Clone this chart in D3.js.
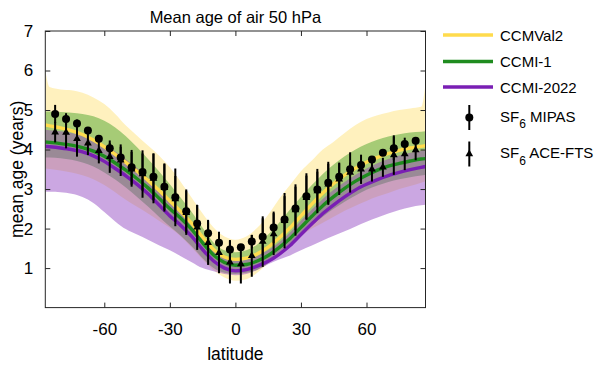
<!DOCTYPE html>
<html><head><meta charset="utf-8">
<script src="https://cdn.jsdelivr.net/npm/d3@7"></script>
<style>body{margin:0;background:#fff} text{font-family:"Liberation Sans",Arial,sans-serif;fill:#000}</style>
</head><body><svg id="c" width="600" height="367"></svg>
<script>
// ---- data ----
const modelLat = [-87,-85,-80,-75,-70,-65,-60,-55,-50,-45,-40,-35,-30,-25,-20,-15,-10,-5,0,5,10,15,20,25,30,35,40,45,50,55,60,65,70,75,80,85,87];
const ccmval2Mean = [4.62,4.60,4.55,4.48,4.38,4.24,4.07,3.88,3.67,3.45,3.22,2.97,2.70,2.43,2.13,1.78,1.47,1.28,1.22,1.25,1.36,1.53,1.76,2.02,2.32,2.62,2.90,3.14,3.35,3.53,3.68,3.80,3.90,3.98,4.04,4.08,4.10];
const ccmval2Hi = [6.00,5.58,5.52,5.50,5.44,5.32,5.15,4.90,4.60,4.35,4.10,3.85,3.55,3.18,2.78,2.38,2.03,1.80,1.72,1.80,2.02,2.35,2.75,3.10,3.45,3.72,4.00,4.20,4.42,4.62,4.77,4.87,4.94,5.00,5.04,5.08,5.65];
const ccmval2Lo = [3.52,3.51,3.47,3.42,3.35,3.25,3.10,2.92,2.72,2.55,2.38,2.20,2.02,1.80,1.52,1.22,0.95,0.76,0.68,0.72,0.88,1.12,1.35,1.60,1.82,2.00,2.15,2.30,2.45,2.58,2.70,2.81,2.90,3.00,3.08,3.16,3.20];
const ccmi1Mean = [4.19,4.18,4.15,4.11,4.05,3.96,3.83,3.66,3.47,3.26,3.03,2.77,2.50,2.26,1.98,1.64,1.33,1.14,1.07,1.09,1.18,1.32,1.52,1.75,2.03,2.31,2.58,2.81,3.02,3.20,3.35,3.48,3.58,3.65,3.71,3.76,3.77];
const ccmi1Hi = [4.96,4.96,4.95,4.93,4.90,4.84,4.73,4.56,4.33,4.06,3.76,3.45,3.12,2.78,2.42,2.02,1.65,1.45,1.40,1.45,1.60,1.85,2.15,2.48,2.80,3.10,3.38,3.62,3.83,4.00,4.14,4.25,4.33,4.39,4.43,4.45,4.46];
const ccmi1Lo = [3.80,3.80,3.78,3.74,3.67,3.57,3.42,3.24,3.03,2.80,2.56,2.30,2.05,1.82,1.55,1.25,1.00,0.88,0.85,0.88,0.96,1.12,1.40,1.62,1.85,2.08,2.30,2.50,2.68,2.84,2.98,3.09,3.18,3.25,3.30,3.34,3.36];
const ccmi2022Mean = [4.08,4.07,4.04,4.00,3.94,3.84,3.70,3.52,3.33,3.12,2.88,2.60,2.32,2.08,1.80,1.47,1.18,1.00,0.93,0.96,1.05,1.17,1.35,1.57,1.85,2.12,2.38,2.60,2.80,2.98,3.12,3.24,3.34,3.42,3.49,3.55,3.57];
const ccmi2022Hi = [4.50,4.49,4.46,4.42,4.36,4.26,4.12,3.95,3.75,3.53,3.28,3.00,2.72,2.46,2.15,1.78,1.45,1.25,1.18,1.22,1.32,1.46,1.65,1.90,2.20,2.48,2.75,2.98,3.18,3.36,3.52,3.65,3.76,3.85,3.92,3.97,3.99];
const ccmi2022Lo = [2.93,2.93,2.92,2.88,2.80,2.65,2.42,2.18,1.98,1.85,1.72,1.58,1.45,1.30,1.15,1.00,0.92,0.85,0.82,0.85,0.95,1.10,1.22,1.32,1.45,1.57,1.70,1.82,1.93,2.05,2.17,2.28,2.38,2.47,2.54,2.59,2.60];

const obsLat = [-82.5,-77.5,-72.5,-67.5,-62.5,-57.5,-52.5,-47.5,-42.5,-37.5,-32.5,-27.5,-22.5,-17.5,-12.5,-7.5,-2.5,2.5,7.5,12.5,17.5,22.5,27.5,32.5,37.5,42.5,47.5,52.5,57.5,62.5,67.5,72.5,77.5,82.5];
const mipas = [4.90,4.77,4.66,4.48,4.27,4.03,3.80,3.55,3.43,3.31,3.06,2.79,2.44,2.13,1.88,1.64,1.47,1.53,1.67,1.79,2.03,2.23,2.51,2.82,2.99,3.16,3.31,3.50,3.61,3.75,3.92,4.03,4.14,4.22];
const mipasErr = [0.23,0.15,0.10,0.06,0.08,0.13,0.27,0.44,0.47,0.59,0.59,0.73,0.55,0.47,0.34,0.28,0.24,0.08,0.17,0.47,0.40,0.59,0.55,0.58,0.45,0.53,0.36,0.17,0.12,0.05,0.05,0.30,0.05,0.05];
const ace = [4.44,4.43,4.27,4.16,3.97,3.82,3.73,3.50,3.38,3.27,3.03,2.75,2.40,2.03,1.64,1.39,1.15,1.10,1.31,1.67,1.86,2.20,2.47,2.78,2.95,3.12,3.25,3.42,3.50,3.50,3.55,3.86,3.89,3.99];
const aceErr = [0.26,0.40,0.45,0.30,0.32,0.41,0.40,0.44,0.60,0.63,0.60,0.58,0.56,0.57,0.56,0.52,0.54,0.49,0.53,0.64,0.53,0.70,0.65,0.56,0.56,0.52,0.40,0.51,0.37,0.31,0.24,0.50,0.41,0.26];

const xTicks = [-60,-30,0,30,60];
const yTicks = [1,2,3,4,5,6,7];
const title = "Mean age of air 50 hPa";

// ---- layout ----
const svg = d3.select("#c");
const FONT = "Liberation Sans, Arial, sans-serif";
const L = 45.3, R = 425.5, T = 31, B = 307.6;
const x = d3.scaleLinear().domain([-87,87]).range([L,R]);
const y = d3.scaleLinear().domain([0,7]).range([B,T]);

svg.append("defs").append("clipPath").attr("id","clip")
  .append("rect").attr("x",L).attr("y",T).attr("width",R-L).attr("height",B-T);
const g = svg.append("g").attr("clip-path","url(#clip)");

const models = [
  {name:"CCMVal2", mean:ccmval2Mean, lo:ccmval2Lo, hi:ccmval2Hi, line:"#ffdb4d", fill:"#ffd94a", op:0.36},
  {name:"CCMI-1", mean:ccmi1Mean, lo:ccmi1Lo, hi:ccmi1Hi, line:"#1f8c1f", fill:"#2a9614", op:0.42},
  {name:"CCMI-2022", mean:ccmi2022Mean, lo:ccmi2022Lo, hi:ccmi2022Hi, line:"#7a1fb4", fill:"#8c3cbe", op:0.45}
];
const curve = d3.curveMonotoneX;
models.forEach(m => {
  const area = d3.area().curve(curve).x((d,i)=>x(modelLat[i])).y0((d,i)=>y(m.lo[i])).y1((d,i)=>y(m.hi[i]));
  g.append("path").datum(modelLat).attr("d",area).attr("fill",m.fill).attr("fill-opacity",m.op);
});
models.forEach(m => {
  const line = d3.line().curve(curve).x((d,i)=>x(modelLat[i])).y((d,i)=>y(m.mean[i]));
  g.append("path").datum(modelLat).attr("d",line).attr("fill","none").attr("stroke",m.line).attr("stroke-width",3.4);
});

// observations
const obs = svg.append("g");
obsLat.forEach((la,i) => {
  obs.append("line").attr("x1",x(la)).attr("x2",x(la)).attr("y1",y(ace[i]-aceErr[i])).attr("y2",y(ace[i]+aceErr[i]))
    .attr("stroke","#000").attr("stroke-width",2);
  obs.append("line").attr("x1",x(la)).attr("x2",x(la)).attr("y1",y(mipas[i]-mipasErr[i])).attr("y2",y(mipas[i]+mipasErr[i]))
    .attr("stroke","#000").attr("stroke-width",2);
});
const tri = d3.symbol().type(d3.symbolTriangle).size(26);
obsLat.forEach((la,i) => {
  obs.append("path").attr("d",tri()).attr("transform",`translate(${x(la)},${y(ace[i])})`).attr("fill","#000");
});
obsLat.forEach((la,i) => {
  obs.append("circle").attr("cx",x(la)).attr("cy",y(mipas[i])).attr("r",4).attr("fill","#000");
});

// axes
const axCol = "#262626";
const fmt = d => String(d);
const xb = svg.append("g").attr("transform",`translate(0,${B})`)
  .call(d3.axisBottom(x).tickValues(xTicks).tickFormat(fmt).tickSizeInner(-5).tickSizeOuter(0).tickPadding(15));
const xt = svg.append("g").attr("transform",`translate(0,${T})`)
  .call(d3.axisTop(x).tickValues(xTicks).tickSizeInner(-5).tickSizeOuter(0).tickFormat(""));
const yl = svg.append("g").attr("transform",`translate(${L},0)`)
  .call(d3.axisLeft(y).tickValues(yTicks).tickFormat(fmt).tickSizeInner(-5).tickSizeOuter(0).tickPadding(12));
const yr = svg.append("g").attr("transform",`translate(${R},0)`)
  .call(d3.axisRight(y).tickValues(yTicks).tickSizeInner(-5).tickSizeOuter(0).tickFormat(""));
[xb,xt,yl,yr].forEach(a => {
  a.attr("font-size",null).attr("font-family",null);
  a.select(".domain").remove();
  a.selectAll(".tick line").attr("stroke",axCol);
  a.selectAll(".tick text").style("font-size","17px").style("font-family",FONT).attr("fill","#000");
});
svg.append("rect").attr("x",L).attr("y",T).attr("width",R-L).attr("height",B-T)
  .attr("fill","none").attr("stroke",axCol).attr("stroke-width",1);

svg.append("text").attr("x",(L+R)/2).attr("y",23).attr("text-anchor","middle").style("font-size","16.5px").text(title);
svg.append("text").attr("x",(L+R)/2).attr("y",360).attr("text-anchor","middle").style("font-size","17.5px").text("latitude");
svg.append("text").attr("transform",`translate(23,${(T+B)/2}) rotate(-90)`).attr("text-anchor","middle").style("font-size","17.5px").text("mean age (years)");

// legend
const lg = svg.append("g");
const ly = [35, 61.5, 87];
models.forEach((m,i) => {
  lg.append("line").attr("x1",443).attr("x2",493).attr("y1",ly[i]).attr("y2",ly[i]).attr("stroke",m.line).attr("stroke-width",3.4);
  lg.append("text").attr("x",500).attr("y",ly[i]+5.5).style("font-size","15px").text(m.name);
});
const obsNames = ["MIPAS","ACE-FTS"];
const oy = [117.5, 154];
obsNames.forEach((n,i) => {
  lg.append("line").attr("x1",469.3).attr("x2",469.3).attr("y1",oy[i]-12.5).attr("y2",oy[i]+12.5).attr("stroke","#000").attr("stroke-width",2);
  if (i===0) lg.append("circle").attr("cx",469.3).attr("cy",oy[i]).attr("r",4).attr("fill","#000");
  else lg.append("path").attr("d",tri()).attr("transform",`translate(469.3,${oy[i]})`).attr("fill","#000");
  const t = lg.append("text").attr("x",500).attr("y",oy[i]+4).style("font-size","15px");
  t.append("tspan").text("SF");
  t.append("tspan").attr("dy",6.5).style("font-size","12px").text("6");
  t.append("tspan").attr("dy",-6.5).text(" " + n);
});
</script></body></html>
